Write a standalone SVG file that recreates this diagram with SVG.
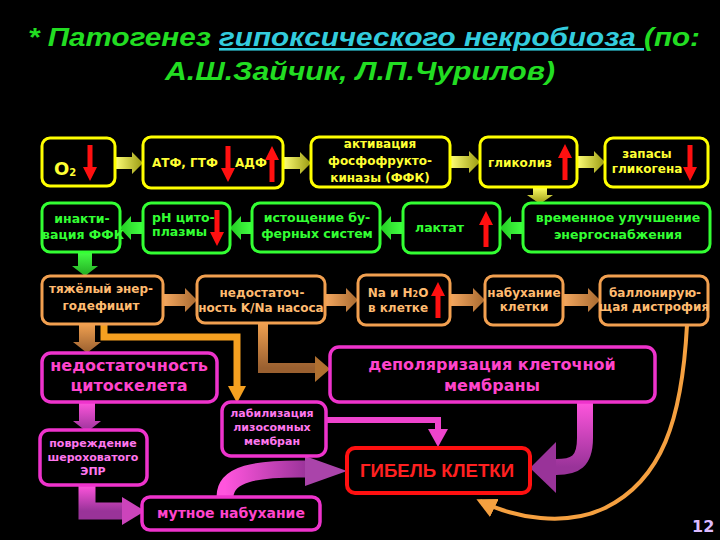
<svg xmlns="http://www.w3.org/2000/svg" width="720" height="540" viewBox="0 0 720 540">
<defs>
<style>
.t{font-family:"DejaVu Sans","Liberation Sans",sans-serif;font-weight:bold;}
.by{fill:#000;stroke:#ffff00;stroke-width:3;}
.bg{fill:#000;stroke:#33ff33;stroke-width:3;}
.bo{fill:#000;stroke:#f2a050;stroke-width:3;}
.bm{fill:#000;stroke:#ee33cc;stroke-width:3.5;}
.ty{fill:#ffff33;font-size:12px;}
.tg{fill:#33ff33;font-size:12.5px;}
.to{fill:#ffbb70;font-size:12px;}
.tm{fill:#ff44cc;font-size:16px;}
.ts{fill:#ff77ee;font-size:11px;}
</style>
<linearGradient id="gy" x1="0" y1="0" x2="1" y2="0"><stop offset="0" stop-color="#ffff77"/><stop offset="1" stop-color="#9a9a10"/></linearGradient>
<linearGradient id="gyv" x1="0" y1="0" x2="0" y2="1"><stop offset="0" stop-color="#ffff66"/><stop offset="1" stop-color="#9a9a10"/></linearGradient>
<linearGradient id="gg" x1="1" y1="0" x2="0" y2="0"><stop offset="0" stop-color="#44ff44"/><stop offset="1" stop-color="#22cc22"/></linearGradient>
<linearGradient id="ggv" x1="0" y1="0" x2="0" y2="1"><stop offset="0" stop-color="#44ff44"/><stop offset="1" stop-color="#22aa22"/></linearGradient>
<linearGradient id="go" x1="0" y1="0" x2="1" y2="0"><stop offset="0" stop-color="#f5a860"/><stop offset="1" stop-color="#a86a30"/></linearGradient>
<linearGradient id="gov" x1="0" y1="0" x2="0" y2="1"><stop offset="0" stop-color="#f0a050"/><stop offset="1" stop-color="#9a6030"/></linearGradient>
<linearGradient id="gmv" x1="0" y1="0" x2="0" y2="1"><stop offset="0" stop-color="#ff55dd"/><stop offset="1" stop-color="#993399"/></linearGradient>
<linearGradient id="gm" x1="0" y1="0" x2="1" y2="0"><stop offset="0" stop-color="#ff55dd"/><stop offset="1" stop-color="#993399"/></linearGradient>
<path id="rd" d="M-2.5,0 H2.5 V22 H7 L0,36 L-7,22 H-2.5 Z" fill="#ff1010"/>
<path id="ru" d="M-2.5,36 H2.5 V14 H7 L0,0 L-7,14 H-2.5 Z" fill="#ff1010"/>
<marker id="mo" viewBox="0 0 10 10" refX="8" refY="5" markerWidth="5" markerHeight="5" orient="auto"><path d="M0,0 L10,5 L0,10 Z" fill="#f5a040"/></marker>
</defs>
<rect width="720" height="540" fill="#000"/>

<g id="title" font-family="'Liberation Sans',sans-serif" font-weight="bold" font-style="italic" font-size="26">
<text x="28" y="46" textLength="672" lengthAdjust="spacingAndGlyphs" fill="#22dd22">*  Патогенез <tspan fill="#33ccdd" text-decoration="underline">гипоксического некробиоза </tspan>(по:</text>
<text x="165" y="80" textLength="390" lengthAdjust="spacingAndGlyphs" fill="#22dd22">А.Ш.Зайчик, Л.П.Чурилов)</text>
</g>

<g id="connectors">
<polygon points="115,157 132,157 132,152 143,163 132,174 132,169 115,169" fill="url(#gy)"/>
<polygon points="283,157 300,157 300,152 311,163 300,174 300,169 283,169" fill="url(#gy)"/>
<polygon points="450,156 469,156 469,151 480,162 469,173 469,168 450,168" fill="url(#gy)"/>
<polygon points="577,156 594,156 594,151 605,162 594,173 594,168 577,168" fill="url(#gy)"/>
<polygon points="533,187 547,187 547,195 553,195 540,204 527,195 533,195" fill="url(#gyv)"/>
<polygon points="143,222 131,222 131,216 120,228 131,240 131,234 143,234" fill="url(#gg)"/>
<polygon points="252,222 241,222 241,216 230,228 241,240 241,234 252,234" fill="url(#gg)"/>
<polygon points="403,222 391,222 391,216 380,228 391,240 391,234 403,234" fill="url(#gg)"/>
<polygon points="523,222 511,222 511,216 500,228 511,240 511,234 523,234" fill="url(#gg)"/>
<polygon points="78,252 92,252 92,266 98,266 85,276 72,266 78,266" fill="url(#ggv)"/>
<polygon points="163,294 185,294 185,288 197,300 185,312 185,306 163,306" fill="url(#go)"/>
<polygon points="325,294 346,294 346,288 358,300 346,312 346,306 325,306" fill="url(#go)"/>
<polygon points="450,294 473,294 473,288 485,300 473,312 473,306 450,306" fill="url(#go)"/>
<polygon points="563,294 588,294 588,288 600,300 588,312 588,306 563,306" fill="url(#go)"/>
<polygon points="79,324 95,324 95,342 101,342 87,353 73,342 79,342" fill="url(#gov)"/>
<path d="M104,324 V337 H237 V388" fill="none" stroke="#f5a020" stroke-width="7"/>
<polygon points="228,386 246,386 237,403" fill="#f5a020"/>
<path d="M263,323 V368 H316" fill="none" stroke="url(#gov)" stroke-width="10"/>
<polygon points="315,356 330,369 315,382" fill="#b07030"/>
<path d="M687,325 C682,420 662,480 605,508 C565,527 515,518 480,501" fill="none" stroke="#f5a040" stroke-width="4" marker-end="url(#mo)"/>
<polygon points="79,402 95,402 95,421 101,421 87,432 73,421 79,421" fill="url(#gmv)"/>
<path d="M87,485 V511 H125" fill="none" stroke="url(#gmv)" stroke-width="17"/>
<polygon points="122,497 145,511 122,525" fill="#cc44bb"/>
<path d="M326,420 H438 V430" fill="none" stroke="#ee44cc" stroke-width="6"/>
<polygon points="428,429 448,429 438,447" fill="#ee44cc"/>
<path d="M225,497 C225,474 255,468 308,469" fill="none" stroke="url(#gm)" stroke-width="17"/>
<polygon points="305,456 347,471 305,486" fill="#aa44aa"/>
<path d="M585,402 V438 C585,462 575,467 556,467" fill="none" stroke="url(#gmv)" stroke-width="16"/>
<polygon points="556,442 530,468 556,493" fill="#993399"/>
</g>

<g id="n-o2"><rect class="by" x="42" y="138" width="73" height="48" rx="8"/>
<text class="t" x="54" y="175" fill="#ffff33" font-size="18">O<tspan font-size="10" dy="1">2</tspan></text>
<use href="#rd" x="90" y="145"/></g>

<g id="n-atf"><rect class="by" x="143" y="137" width="140" height="51" rx="8"/>
<text class="t ty" x="152" y="167">АТФ, ГТФ</text><text class="t ty" x="235" y="167">АДФ</text>
<use href="#rd" x="228" y="146"/><use href="#ru" x="272" y="146"/></g>

<g id="n-ffk"><rect class="by" x="311" y="137" width="139" height="50" rx="8"/>
<text class="t ty" text-anchor="middle" font-size="12.5"><tspan x="380" y="148">активация</tspan><tspan x="380" y="165">фосфофрукто-</tspan><tspan x="380" y="182">киназы (ФФК)</tspan></text></g>

<g id="n-glyc"><rect class="by" x="480" y="137" width="97" height="50" rx="8"/>
<text class="t ty" x="488" y="167">гликолиз</text>
<use href="#ru" x="565" y="144"/></g>

<g id="n-glycogen"><rect class="by" x="605" y="138" width="103" height="49" rx="8"/>
<text class="t ty" text-anchor="middle" font-size="11"><tspan x="647" y="158">запасы</tspan><tspan x="647" y="173">гликогена</tspan></text>
<use href="#rd" x="690" y="145"/></g>

<g id="n-inakt"><rect class="bg" x="42" y="203" width="78" height="49" rx="8"/>
<text class="t tg" text-anchor="middle" font-size="11"><tspan x="82" y="223">инакти-</tspan><tspan x="83" y="239">вация ФФК</tspan></text></g>

<g id="n-ph"><rect class="bg" x="143" y="203" width="87" height="50" rx="8"/>
<text class="t tg" font-size="11.5"><tspan x="152" y="222">pH цито-</tspan><tspan x="152" y="236">плазмы</tspan></text>
<use href="#rd" x="217" y="210"/></g>

<g id="n-buf"><rect class="bg" x="252" y="203" width="128" height="49" rx="8"/>
<text class="t tg" text-anchor="middle"><tspan x="317" y="222">истощение бу-</tspan><tspan x="317" y="238">ферных систем</tspan></text></g>

<g id="n-lact"><rect class="bg" x="403" y="203" width="97" height="50" rx="8"/>
<text class="t tg" x="415" y="232" font-size="15.5">лактат</text>
<use href="#ru" x="486" y="211"/></g>

<g id="n-temp"><rect class="bg" x="523" y="203" width="187" height="49" rx="8"/>
<text class="t tg" text-anchor="middle"><tspan x="618" y="222">временное улучшение</tspan><tspan x="618" y="239">энергоснабжения</tspan></text></g>

<g id="n-deficit"><rect class="bo" x="42" y="276" width="121" height="48" rx="8"/>
<text class="t to" text-anchor="middle" font-size="13"><tspan x="101" y="293">тяжёлый энер-</tspan><tspan x="101" y="310">годефицит</tspan></text></g>

<g id="n-kna"><rect class="bo" x="197" y="276" width="128" height="47" rx="8"/>
<text class="t to" text-anchor="middle" font-size="11" fill="#ffc890"><tspan x="262" y="297">недостаточ-</tspan><tspan x="261" y="312">ность K/Na насоса</tspan></text></g>

<g id="n-na"><rect class="bo" x="358" y="275" width="92" height="50" rx="8"/>
<text class="t to" text-anchor="middle" font-size="11.5"><tspan x="398" y="297">Na и H<tspan font-size="8">2</tspan>O</tspan><tspan x="398" y="312">в клетке</tspan></text>
<use href="#ru" x="438" y="282"/></g>

<g id="n-swell"><rect class="bo" x="485" y="276" width="78" height="49" rx="8"/>
<text class="t to" text-anchor="middle" font-size="10.5"><tspan x="524" y="297">набухание</tspan><tspan x="524" y="311">клетки</tspan></text></g>

<g id="n-balloon"><rect class="bo" x="600" y="276" width="108" height="49" rx="8"/>
<text class="t to" text-anchor="middle" font-size="10.5"><tspan x="655" y="297">баллонирую-</tspan><tspan x="654" y="311">щая дистрофия</tspan></text></g>

<g id="n-cyto"><rect class="bm" x="42" y="353" width="175" height="49" rx="9"/>
<text class="t tm" text-anchor="middle"><tspan x="129" y="371">недостаточность</tspan><tspan x="129" y="391">цитоскелета</tspan></text></g>

<g id="n-depol"><rect class="bm" x="330" y="347" width="325" height="55" rx="9"/>
<text class="t tm" text-anchor="middle"><tspan x="492" y="370">деполяризация клеточной</tspan><tspan x="492" y="391">мембраны</tspan></text></g>

<g id="n-lyso"><rect class="bm" x="222" y="402" width="104" height="54" rx="9"/>
<text class="t ts" text-anchor="middle"><tspan x="272" y="417">лабилизация</tspan><tspan x="272" y="431">лизосомных</tspan><tspan x="272" y="445">мембран</tspan></text></g>

<g id="n-epr"><rect class="bm" x="40" y="430" width="107" height="55" rx="9"/>
<text class="t ts" text-anchor="middle"><tspan x="93" y="447">повреждение</tspan><tspan x="93" y="461">шероховатого</tspan><tspan x="93" y="475">ЭПР</tspan></text></g>

<g id="n-death"><rect x="347" y="448" width="183" height="45" rx="8" fill="#000" stroke="#ff1010" stroke-width="4"/>
<text x="360" y="477" font-family="'Liberation Sans',sans-serif" font-weight="bold" font-size="18" fill="#ff2020" textLength="154" lengthAdjust="spacingAndGlyphs">ГИБЕЛЬ КЛЕТКИ</text></g>

<g id="n-cloudy"><rect class="bm" x="142" y="497" width="178" height="33" rx="8"/>
<text class="t" x="231" y="518" text-anchor="middle" font-size="14" fill="#ff44cc">мутное набухание</text></g>

<text x="692" y="532" font-family="'DejaVu Sans',sans-serif" font-weight="bold" font-size="16" fill="#ddbbff">12</text>
</svg>
